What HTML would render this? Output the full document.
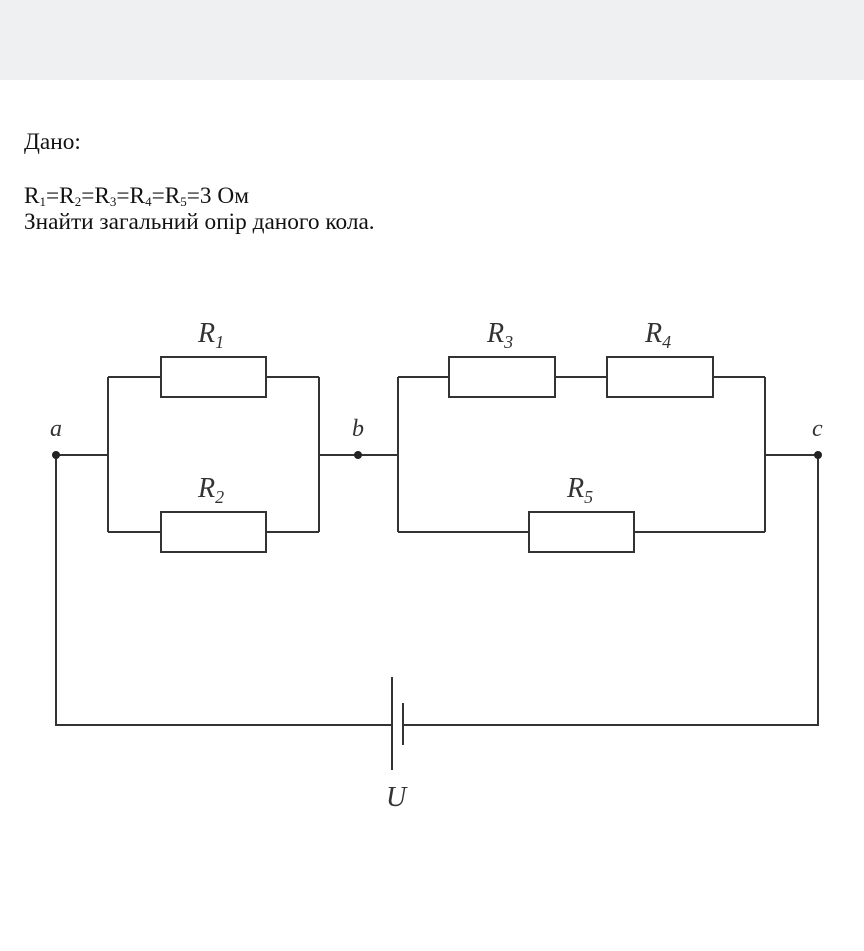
<!DOCTYPE html>
<html><head><meta charset="utf-8"><style>
body{margin:0;width:864px;height:951px;background:#fff;position:relative;overflow:hidden;font-family:"Liberation Serif",serif;}
.hdr{position:absolute;left:0;top:0;width:864px;height:80px;background:#eff0f2;}
.t{position:absolute;left:24px;font-size:23.3px;color:#111;line-height:1;}
sub{font-size:13px;vertical-align:-3px;line-height:0;}
svg{position:absolute;left:0;top:0;}
</style></head><body>
<div class="hdr"></div>
<div class="t" style="top:131px">Дано:</div>
<div class="t" style="top:185px">R<sub>1</sub>=R<sub>2</sub>=R<sub>3</sub>=R<sub>4</sub>=R<sub>5</sub>=3 Ом</div>
<div class="t" style="top:211px">Знайти загальний опір даного кола.</div>
<svg width="864" height="951">
<g stroke="#333" stroke-width="2" fill="none">
<path d="M56 455H108M108 377V532M108 377H161M266 377H319M108 532H161M266 532H319M319 377V532M319 455H398"/>
<path d="M398 377V532M398 377H449M555 377H607M713 377H765M765 377V532M398 532H529M634 532H765M765 455H818"/>
<path d="M56 455V725H392M403 725H818V455"/>
<rect x="161" y="357" width="105" height="40"/>
<rect x="161" y="512" width="105" height="40"/>
<rect x="449" y="357" width="106" height="40"/>
<rect x="607" y="357" width="106" height="40"/>
<rect x="529" y="512" width="105" height="40"/>
<path d="M392 677V770M403 703V745"/>
</g>
<g fill="#222"><circle cx="56" cy="455" r="4"/><circle cx="358" cy="455" r="4"/><circle cx="818" cy="455" r="4"/></g>
<g font-family="Liberation Serif,serif" font-style="italic" font-size="28" fill="#333">
<text x="198" y="342">R<tspan font-size="18" dy="6">1</tspan></text>
<text x="198" y="497">R<tspan font-size="18" dy="6">2</tspan></text>
<text x="487" y="342">R<tspan font-size="18" dy="6">3</tspan></text>
<text x="645" y="342">R<tspan font-size="18" dy="6">4</tspan></text>
<text x="567" y="497">R<tspan font-size="18" dy="6">5</tspan></text>
<text x="50" y="436" font-size="24">a</text>
<text x="352" y="436" font-size="24">b</text>
<text x="812" y="436" font-size="24">c</text>
<text x="386" y="806">U</text>
</g>
</svg>
</body></html>
